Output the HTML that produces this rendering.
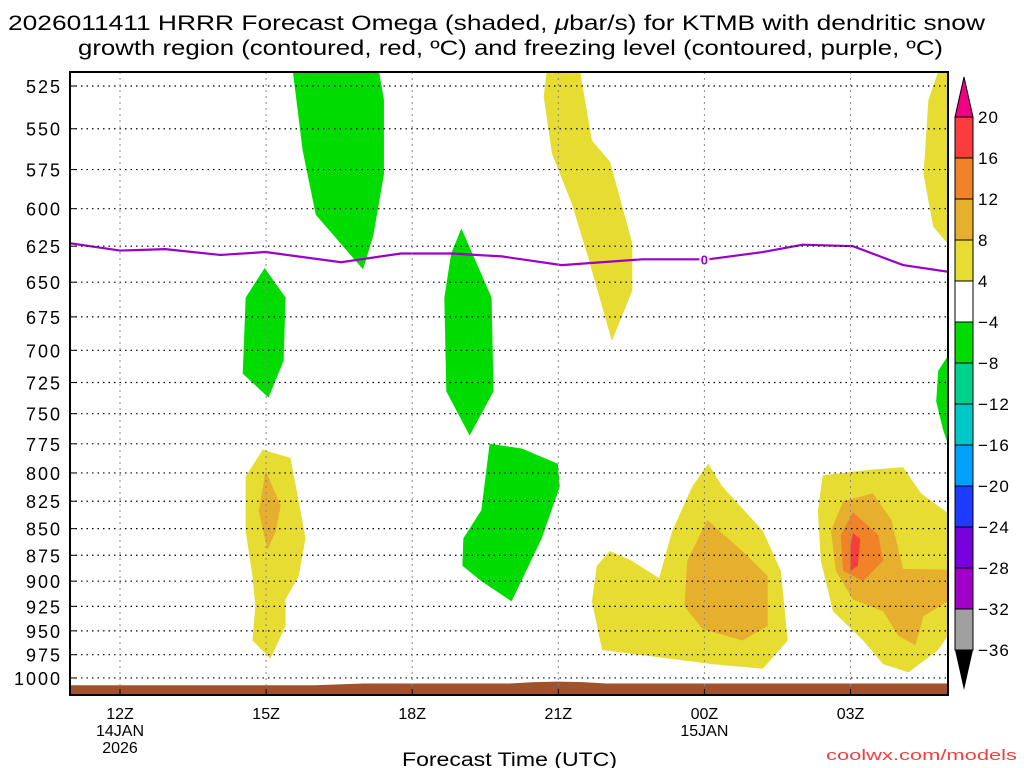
<!DOCTYPE html>
<html><head><meta charset="utf-8"><style>
body{margin:0;background:#fff;width:1024px;height:768px;overflow:hidden}
svg{display:block;font-family:"Liberation Sans",sans-serif}
</style></head><body>
<svg id="c" width="1024" height="768" xmlns="http://www.w3.org/2000/svg">
<text x="8" y="30" font-size="21" textLength="977" lengthAdjust="spacingAndGlyphs">2026011411 HRRR Forecast Omega (shaded, <tspan font-style="italic">μ</tspan>bar/s) for KTMB with dendritic snow</text>
<text x="78" y="55" font-size="21" textLength="865" lengthAdjust="spacingAndGlyphs">growth region (contoured, red, ºC) and freezing level (contoured, purple, ºC)</text>
<text x="402" y="766" font-size="19" textLength="215" lengthAdjust="spacingAndGlyphs">Forecast Time (UTC)</text>
<text x="826" y="760" font-size="15" fill="#f04040" textLength="191" lengthAdjust="spacingAndGlyphs">coolwx.com/models</text>
<g id="plot"></g>
</svg>
<script>
const pLevels=[525,550,575,600,625,650,675,700,725,750,775,800,825,850,875,900,925,950,975,1000];
const tTicks=[0,3,6,9,12,15];
const tLabels=[["12Z","14JAN","2026"],["15Z"],["18Z"],["21Z"],["00Z","15JAN"],["03Z"]];
const cbLevels=["20","16","12","8","4","−4","−8","−12","−16","−20","−24","−28","−32","−36"];
const cbColors=["#fa3c3c","#f08228","#e6af2d","#e6dc32","#ffffff","#00dc00","#00d28c","#00c8c8","#00a0ff","#1e3cff","#7800dc","#a000c8","#a0a0a0"];
const frzT=[-1.03,0,0.93,2.06,2.99,4.54,5.77,6.8,7.84,9.07,10.72,12.08,13.2,14.02,15.05,16.08,17.07];
const frzP=[623,628,627,631,629,636,630,630,632,638,634,634,629,624,625,638,643];
const sfcT=[-1.03,4,5,8,8.5,9,9.5,10,17.07];
const sfcP=[1008,1008,1006,1006,1004.5,1004,1004.5,1006,1006];
const green=[
[[3.55,517],[5.32,517],[5.42,533],[5.42,578],[5.2,618],[4.99,641],[4.02,604],[3.75,563]],
[[2.97,640],[3.4,661],[3.36,708],[3.05,737],[2.52,718],[2.58,661]],
[[7.01,613],[7.63,661],[7.67,732],[7.18,768],[6.7,732],[6.66,661],[6.8,630]],
[[7.59,775],[8.25,779],[8.99,792],[9.03,812],[8.66,859],[8.04,920],[7.42,900],[7.03,885],[7.05,859],[7.42,833]],
[[17.07,700],[16.8,716],[16.76,740],[16.9,763],[17.07,784]]];
const yellow=[
[[16.8,517],[17.07,517],[17.07,626],[16.7,612],[16.5,578],[16.6,533]],
[[8.76,517],[9.45,517],[9.69,557],[10.06,570],[10.52,623],[10.52,656],[10.1,693],[9.59,630],[9.28,597],[8.87,565],[8.7,531]],
[[2.93,780],[3.5,787],[3.67,825],[3.81,859],[3.67,895],[3.4,918],[3.4,945],[3.09,979],[2.72,960],[2.78,925],[2.72,895],[2.58,852],[2.58,803]],
[[12.08,792],[12.37,812],[13.2,852],[13.57,890],[13.71,960],[13.2,990],[12.16,985],[9.9,970],[9.69,920],[9.79,885],[10.06,871],[10.5,880],[11.07,897],[11.34,852],[11.75,812]],
[[14.43,802],[15.46,797],[16.08,795],[16.45,818],[17.07,838],[17.07,950],[16.8,970],[16.19,994],[15.67,985],[15.26,960],[14.64,930],[14.39,880],[14.33,834]]];
const orange=[
[[2.99,798],[3.3,829],[3.2,852],[3.03,870],[2.85,834]],
[[12.06,842],[12.78,871],[13.3,895],[13.3,945],[12.78,960],[11.96,948],[11.59,925],[11.65,880]],
[[14.85,825],[15.46,818],[15.84,842],[16.08,888],[17.07,889],[17.0,920],[16.5,935],[16.33,965],[15.98,955],[15.67,930],[15.05,918],[14.7,890],[14.6,852]]];
const orange2=[[[15.05,835],[15.57,856],[15.67,880],[15.26,900],[14.85,890],[14.8,856]]];
const red=[[[15.05,854],[15.2,860],[15.15,885],[15.0,890],[15.0,866]]];

const L=70,R=948,T=72,B=695;
const X=t=>120+t*48.7;
const Y=p=>86+(Math.log(p)-Math.log(525))/0.6444*592;
const NS="http://www.w3.org/2000/svg";
const g=document.getElementById('plot');
function mk(tag,attrs,parent){const e=document.createElementNS(NS,tag);for(const k in attrs)e.setAttribute(k,attrs[k]);(parent||g).appendChild(e);return e;}
const clip=mk('clipPath',{id:'pc'});mk('rect',{x:L,y:T,width:R-L,height:B-T},clip);
const fills=mk('g',{'clip-path':'url(#pc)'});
function polys(arr,col,name){arr.forEach(poly=>{const e=mk('polygon',{points:poly.map(q=>X(q[0])+','+Y(q[1])).join(' '),fill:col},fills);

});}
polys(green,'#00dc00','omega-region-green');
polys(yellow,'#e6dc32','omega-region-yellow');
polys(orange,'#e6af2d','omega-region-orange');
polys(orange2,'#f08228','omega-region-dark-orange');
polys(red,'#fa3c3c','omega-region-red');
pLevels.forEach(p=>{const y=Y(p);
const l=mk('line',{x1:L,x2:R,y1:y,y2:y,stroke:'#000','stroke-width':1.2,'stroke-dasharray':'1.5 4'});


mk('line',{x1:L,x2:L+6,y1:y,y2:y,stroke:'#000'});
const tx=mk('text',{x:62,y:y+7,'font-size':18,'letter-spacing':2,'text-anchor':'end'});tx.textContent=p;

});
tTicks.forEach((t,i)=>{const x=X(t);
const l=mk('line',{x1:x,x2:x,y1:T,y2:B,stroke:'#888','stroke-width':1,'stroke-dasharray':'2 4'});


mk('line',{x1:x,x2:x,y1:B,y2:B-6,stroke:'#000'});
tLabels[i].forEach((s,j)=>{const tx=mk('text',{x:x,y:719+j*17,'font-size':16,'text-anchor':'middle'});tx.textContent=s;

});});
let pts=sfcT.map((t,i)=>X(t)+','+Y(sfcP[i]));pts.push(X(sfcT[sfcT.length-1])+','+B,X(sfcT[0])+','+B);
const ter=mk('polygon',{points:pts.join(' '),fill:'#a0522d'},fills);


const fl=mk('polyline',{points:frzT.map((t,i)=>X(t)+','+Y(frzP[i])).join(' '),fill:'none',stroke:'#9b00c8','stroke-width':2.2},fills);


mk('rect',{x:X(12)-5,y:Y(634)-8,width:10,height:15,fill:'#fff'});
const fz=mk('text',{x:X(12),y:Y(634)+5,'font-size':13,'font-weight':'bold',fill:'#9b00c8','text-anchor':'middle'});fz.textContent='0';


const fb=mk('rect',{x:L,y:T,width:R-L,height:B-T,fill:'none',stroke:'#000','stroke-width':2});


const cx=955,cw=18,y0=117,dy=41.0;
const cb=mk('g',{});


mk('polygon',{points:`${cx},${y0} ${cx+cw},${y0} ${cx+cw/2},77`,fill:'#f00082',stroke:'#000'},cb);
cbColors.forEach((c,i)=>{mk('rect',{x:cx,y:y0+i*dy,width:cw,height:dy,fill:c,stroke:'#000','stroke-width':1},cb);});
const yb=y0+cbColors.length*dy;
mk('polygon',{points:`${cx},${yb} ${cx+cw},${yb} ${cx+cw/2},${yb+40}`,fill:'#000'},cb);
cbLevels.forEach((s,i)=>{const tx=mk('text',{x:978,y:y0+i*dy+6,'font-size':17,'letter-spacing':1},cb);tx.textContent=s;

});
</script>
</body></html>
